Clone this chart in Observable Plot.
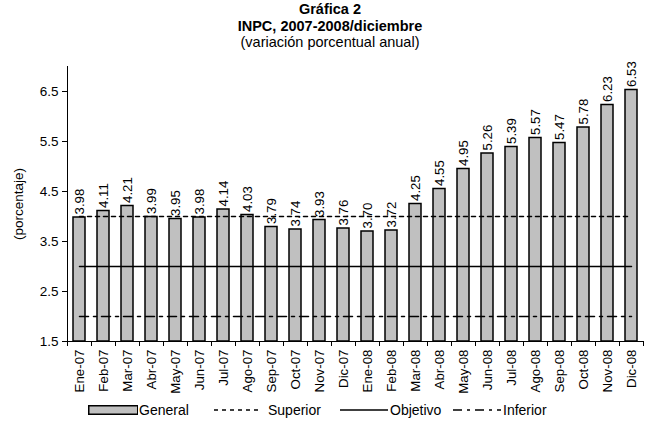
<!DOCTYPE html>
<html>
<head>
<meta charset="utf-8">
<script src="https://cdn.jsdelivr.net/npm/d3@7"></script>
<script src="https://cdn.jsdelivr.net/npm/@observablehq/plot@0.6"></script>
<style>
  html, body { margin: 0; padding: 0; background: #fff; }
  body { width: 649px; height: 423px; overflow: hidden; font-family: "Liberation Sans", Arial, sans-serif; color: #000; }
  #title { text-align: center; font-size: 14.5px; line-height: 16.5px; padding-top: 1px; padding-left: 11px; height: 52px; box-sizing: border-box; }
  #title .b { font-weight: bold; }
  #chart svg { display: block; }
  #legend { position: relative; height: 23px; font-size: 14px; margin-top: 1px; }
  #legend .item { position: absolute; top: 0; height: 20px; display: flex; align-items: center; }
</style>
</head>
<body>
<div id="title">
  <div class="b">Gráfica 2</div>
  <div class="b">INPC, 2007-2008/diciembre</div>
  <div>(variación porcentual anual)</div>
</div>
<div id="chart"></div>
<div id="legend"></div>
<script>
const months = ["Ene-07","Feb-07","Mar-07","Abr-07","May-07","Jun-07","Jul-07","Ago-07","Sep-07","Oct-07","Nov-07","Dic-07",
                "Ene-08","Feb-08","Mar-08","Abr-08","May-08","Jun-08","Jul-08","Ago-08","Sep-08","Oct-08","Nov-08","Dic-08"];
const general = [3.98,4.11,4.21,3.99,3.95,3.98,4.14,4.03,3.79,3.74,3.93,3.76,
                 3.70,3.72,4.25,4.55,4.95,5.26,5.39,5.57,5.47,5.78,6.23,6.53];
const superior = 4.0;
const objetivo = 3.0;
const inferior = 2.0;
const yTicks = [1.5, 2.5, 3.5, 4.5, 5.5, 6.5];
const yDomain = [1.5, 7.0];
const seriesNames = ["General", "Superior", "Objetivo", "Inferior"];

const data = months.map((m, i) => ({mes: m, valor: general[i]}));

const W = 649, H = 347, ML = 67, MR = 6, MT = 14, MB = 58;
const step = (W - ML - MR) / months.length;

const chart = Plot.plot({
  width: W, height: H,
  marginLeft: ML, marginRight: MR, marginTop: MT, marginBottom: MB,
  style: {fontFamily: "'Liberation Sans', Arial, sans-serif", fontSize: "13.3px", color: "black", background: "white"},
  x: {domain: months, paddingInner: 0.5, paddingOuter: 0.25, label: null},
  y: {domain: yDomain, label: null},
  marks: [
    Plot.barY(data, {x: "mes", y1: yDomain[0], y2: "valor", fill: "#c0c0c0", stroke: "black", strokeWidth: 1.5}),
    Plot.lineY(months, {x: d => d, y: () => objetivo, stroke: "black", strokeWidth: 1.5}),
    Plot.lineY(months, {x: d => d, y: () => superior, stroke: "black", strokeWidth: 1.5, strokeDasharray: "4,4"}),
    Plot.lineY(months, {x: d => d, y: () => inferior, stroke: "black", strokeWidth: 1.5, strokeDasharray: "9,5,3,5"}),
    Plot.text(data, {x: "mes", y: "valor", text: d => d.valor.toFixed(2), rotate: -90, textAnchor: "start", dy: -3, fontSize: 13.3, fill: "black"}),
    Plot.ruleY([yDomain[0]], {stroke: "black", strokeWidth: 1}),
    Plot.ruleX([months[0]], {dx: -step / 2, insetBottom: -5, stroke: "black", strokeWidth: 1}),
    Plot.ruleX(months, {x: d => d, y1: yDomain[0], y2: yDomain[0], insetBottom: -5, dx: step / 2, stroke: "black", strokeWidth: 1}),
    Plot.axisY({ticks: yTicks, tickFormat: d3.format(".1f"), tickSize: 5, tickPadding: 4, label: "(porcentaje)", labelAnchor: "center", labelArrow: "none", labelOffset: 54, fontSize: 13.5}),
    Plot.axisX({tickSize: 0, tickRotate: -90, tickPadding: 8, label: null, fontSize: 13.3})
  ]
});
document.getElementById("chart").appendChild(chart);

// Legend
const legend = d3.select("#legend");
const items = [
  {name: seriesNames[0], kind: "box", left: 88, textLeft: 139},
  {name: seriesNames[1], kind: "line", dash: "4,4", left: 214, textLeft: 268},
  {name: seriesNames[2], kind: "line", dash: null, left: 340, textLeft: 390},
  {name: seriesNames[3], kind: "line", dash: "9,5,3,5", left: 453, textLeft: 503}
];
for (const it of items) {
  const sw = legend.append("div").attr("class", "item").style("left", it.left + "px");
  const svg = sw.append("svg").attr("width", 50).attr("height", 12);
  if (it.kind === "box") {
    svg.append("rect").attr("x", 0.75).attr("y", 1.75).attr("width", 49).attr("height", 8.5)
      .attr("fill", "#c0c0c0").attr("stroke", "black").attr("stroke-width", 1.5);
  } else {
    svg.append("line").attr("x1", 0).attr("x2", 48).attr("y1", 6).attr("y2", 6)
      .attr("stroke", "black").attr("stroke-width", 1.5).attr("stroke-dasharray", it.dash);
  }
  legend.append("div").attr("class", "item").style("left", it.textLeft + "px").text(it.name);
}
</script>
</body>
</html>
